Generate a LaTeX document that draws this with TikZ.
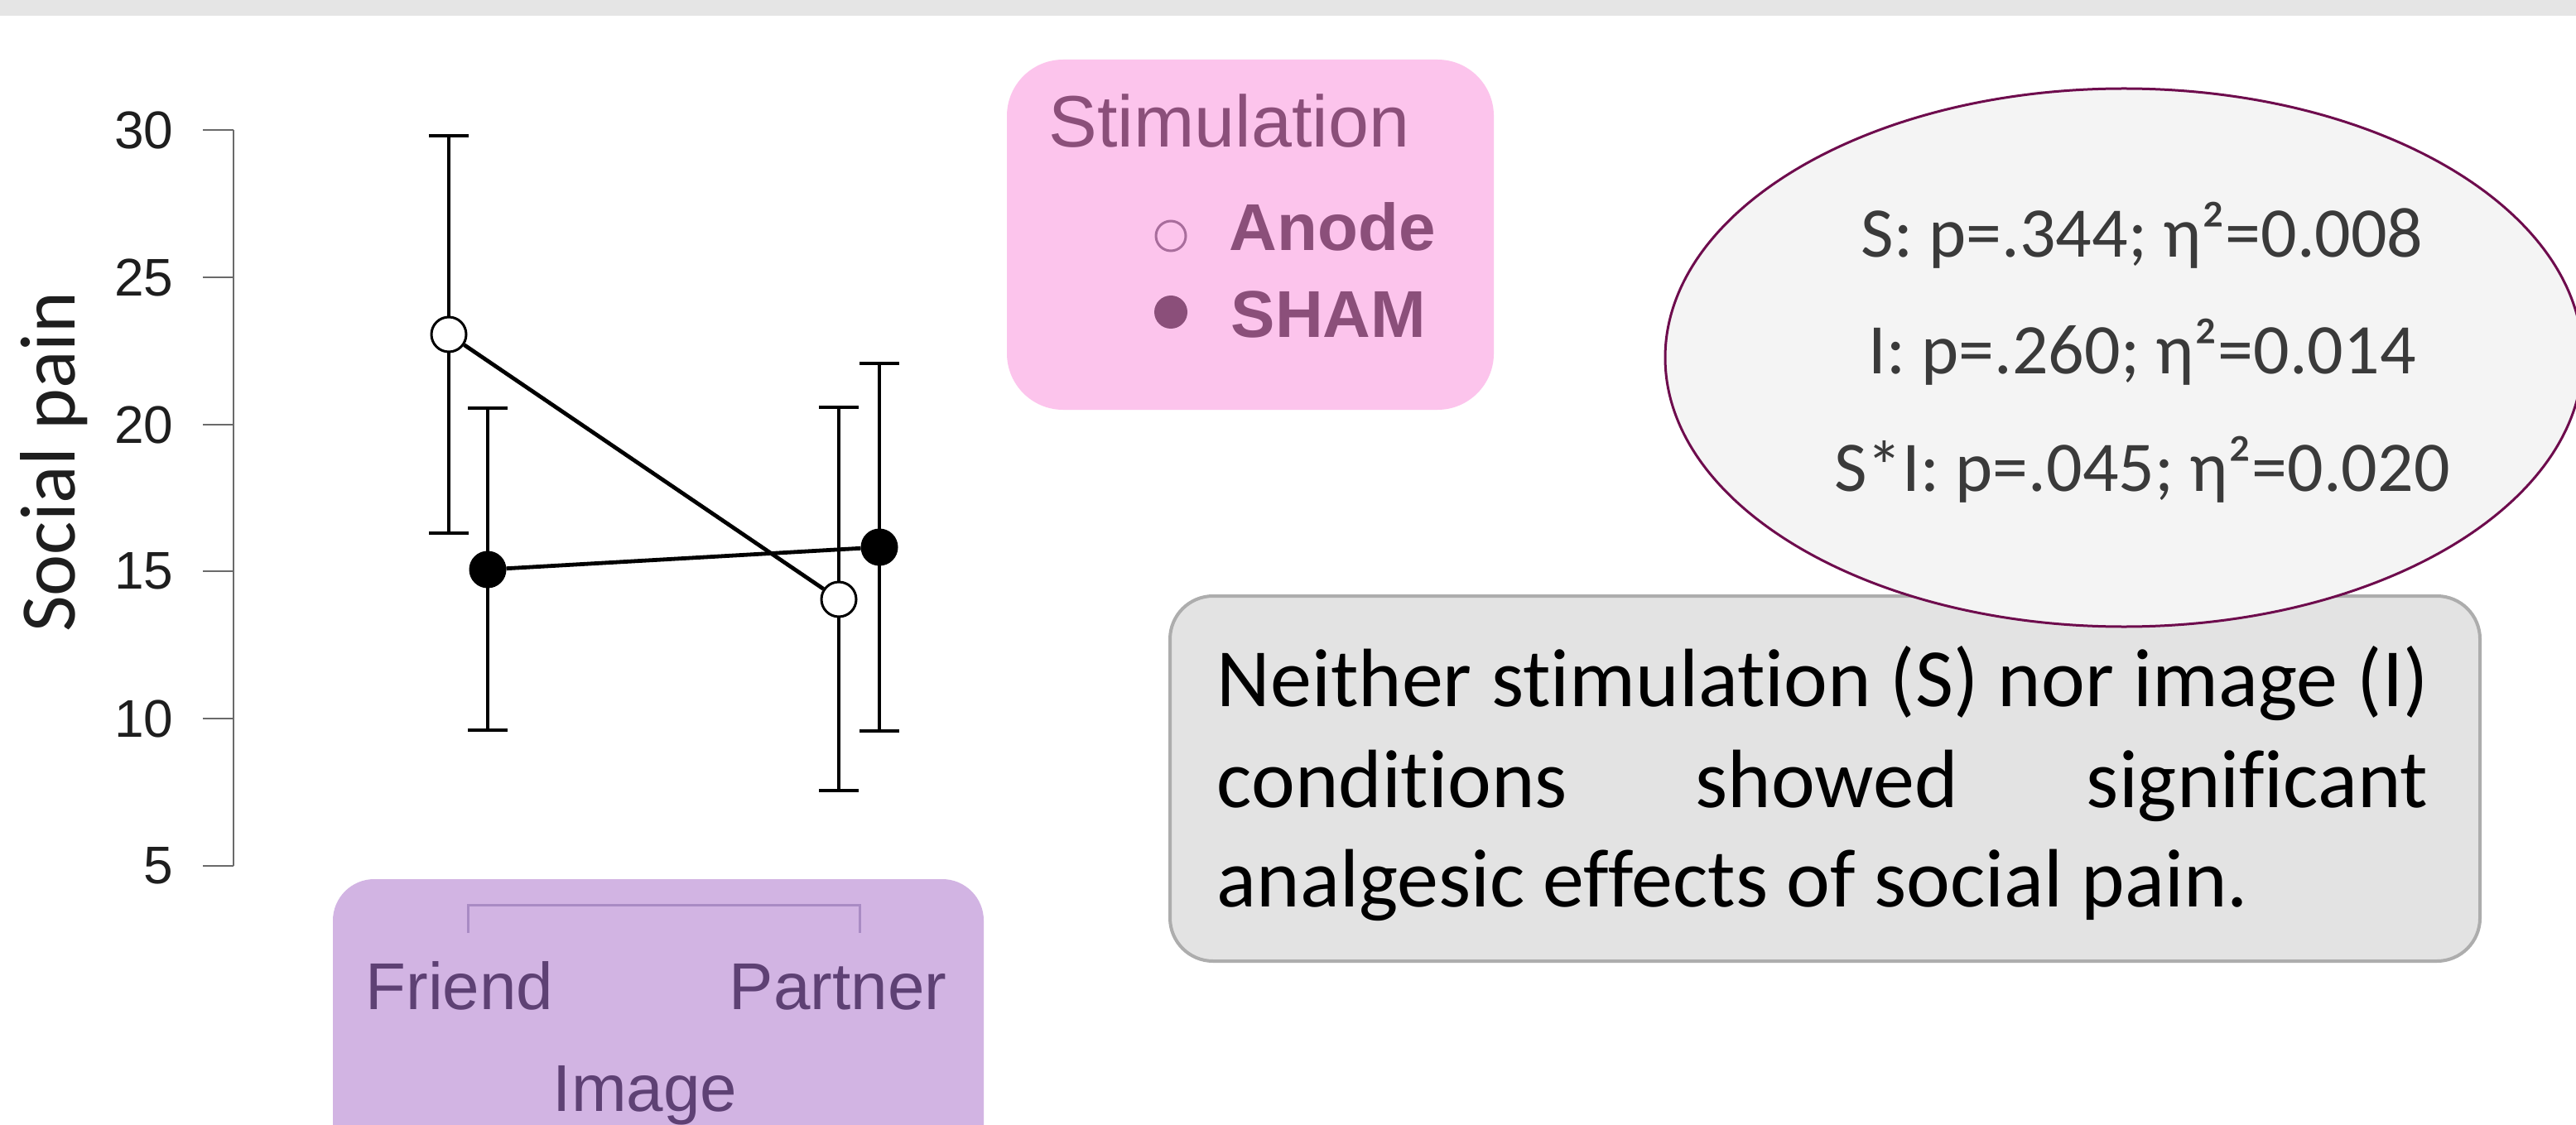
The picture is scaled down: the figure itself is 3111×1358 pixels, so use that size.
\documentclass[tikz,border=0pt]{standalone}
\usepackage{fontspec}
\setmainfont{Carlito}[Ligatures={NoCommon}]
\newfontfamily\arialf{Liberation Sans}
\usetikzlibrary{shapes.geometric}
\definecolor{topband}{HTML}{E5E5E5}
\definecolor{axgray}{HTML}{6A6A6A}
\definecolor{ticktext}{HTML}{1E1E1E}
\definecolor{pinkbox}{HTML}{FCC4EC}
\definecolor{pinktext}{HTML}{8B4F7A}
\definecolor{pinkring}{HTML}{A86D9C}
\definecolor{purplebox}{HTML}{D2B4E3}
\definecolor{purpletext}{HTML}{5E4174}
\definecolor{bracketc}{HTML}{A98BC4}
\definecolor{ellfill}{HTML}{F4F4F4}
\definecolor{elldraw}{HTML}{6E0C4D}
\definecolor{statstext}{HTML}{3A3A3A}
\definecolor{grayfill}{HTML}{E3E3E3}
\definecolor{graydraw}{HTML}{ADADAD}
\begin{document}
\begin{tikzpicture}[x=0.25pt,y=-0.25pt,
  ptopen/.style={circle, draw=black, fill=white, line width=0.75pt, minimum size=10.5pt, inner sep=0pt},
  ptfill/.style={circle, draw=black, fill=black, line width=0.75pt, minimum size=10.5pt, inner sep=0pt},
  ebar/.style={line width=0.85pt, black},
  dline/.style={line width=1.2pt, black},
  axline/.style={line width=0.55pt, axgray},
  ticklab/.style={anchor=east, font=\arialf\fontsize{16pt}{18pt}\selectfont, text=ticktext, inner sep=0pt},
  imglab/.style={anchor=base, font=\arialf\fontsize{20pt}{24pt}\selectfont, text=purpletext, inner sep=0pt},
  legtxt/.style={anchor=base west, font=\arialf\bfseries\fontsize{20pt}{24pt}\selectfont, text=pinktext, inner sep=0pt},
  statline/.style={anchor=base, font=\fontsize{21.5pt}{26pt}\selectfont, text=statstext, inner sep=0pt},
  boxline/.style={anchor=base west, font=\fontsize{25pt}{30pt}\selectfont, text=black, inner sep=0pt}
]
\clip (0,0) rectangle (3111,1358);
\fill[white] (0,0) rectangle (3111,1358);
\fill[topband] (0,0) rectangle (3111,19);

% y axis
\draw[axline] (282,157) -- (282,1046);
\foreach \yy/\lab in {157/30,335/25,513/20,690/15,868/10,1046/5}{
  \draw[axline] (245,\yy) -- (282,\yy);
  \node[ticklab] at (210,\yy) {\lab};
}
\node[rotate=90, font=\fontsize{23.75pt}{28pt}\selectfont, text=ticktext, inner sep=0pt] (ylab) at (65,558) {Social pain};

% error bars
\draw[ebar] (542,164) -- (542,644) (518,164) -- (566,164) (518,644) -- (566,644);
\draw[ebar] (589,493) -- (589,882) (565,493) -- (613,493) (565,882) -- (613,882);
\draw[ebar] (1013,492) -- (1013,955) (989,492) -- (1037,492) (989,955) -- (1037,955);
\draw[ebar] (1062,439) -- (1062,883) (1038,439) -- (1086,439) (1038,883) -- (1086,883);

% points
\node[ptopen] (af) at (542,404) {};
\node[ptfill] (sf) at (589,688) {};
\node[ptopen] (ap) at (1013,724) {};
\node[ptfill] (sp) at (1062,661) {};
\draw[dline] (af) -- (ap);
\draw[dline] (sf) -- (sp);

% image box
\fill[purplebox, rounded corners=12.5pt] (402,1062) rectangle (1188,1420);
\draw[bracketc, line width=0.75pt] (565,1127) -- (565,1093) -- (1038,1093) -- (1038,1127);
\node[imglab] (friend) at (555,1219) {Friend};
\node[imglab] (partner) at (1012,1219) {Partner};
\node[imglab] (image) at (779,1342) {Image};

% legend box
\fill[pinkbox, rounded corners=17pt] (1216,72) rectangle (1804,495);
\node[anchor=base west, font=\arialf\fontsize{22pt}{26pt}\selectfont, text=pinktext, inner sep=0pt] (stim) at (1266,178) {Stimulation};
\node[circle, draw=pinkring, line width=0.75pt, minimum size=9pt, inner sep=0pt] (lopen) at (1414,285) {};
\node[circle, fill=pinktext, minimum size=10pt, inner sep=0pt] (lfill) at (1414,377) {};
\node[legtxt] (anode) at (1484,303) {Anode};
\node[legtxt] (sham) at (1486,408) {SHAM};

% gray conclusion box
\draw[graydraw, fill=grayfill, line width=1pt, rounded corners=13pt] (1413,720) rectangle (2995,1161);
\node[boxline] (b1) at (1469,853) {\makebox[365.75pt][s]{Neither stimulation (S) nor image (I)}};
\node[boxline] (b2) at (1469,975) {\makebox[365.75pt][s]{conditions showed significant}};
\node[boxline] (b3) at (1469,1095) {analgesic effects of social pain.};

% stats ellipse
\node[ellipse, draw=elldraw, fill=ellfill, line width=0.75pt, minimum width=277pt, minimum height=162.5pt, inner sep=0pt] (ell) at (2565,432) {};
\node[statline] (s1) at (2587,311) {S: p=.344; η²=0.008};
\node[statline] (s2) at (2587,452) {I: p=.260; η²=0.014};
\node[statline] (s3) at (2587,593) {S*I: p=.045; η²=0.020};
\end{tikzpicture}
\end{document}
